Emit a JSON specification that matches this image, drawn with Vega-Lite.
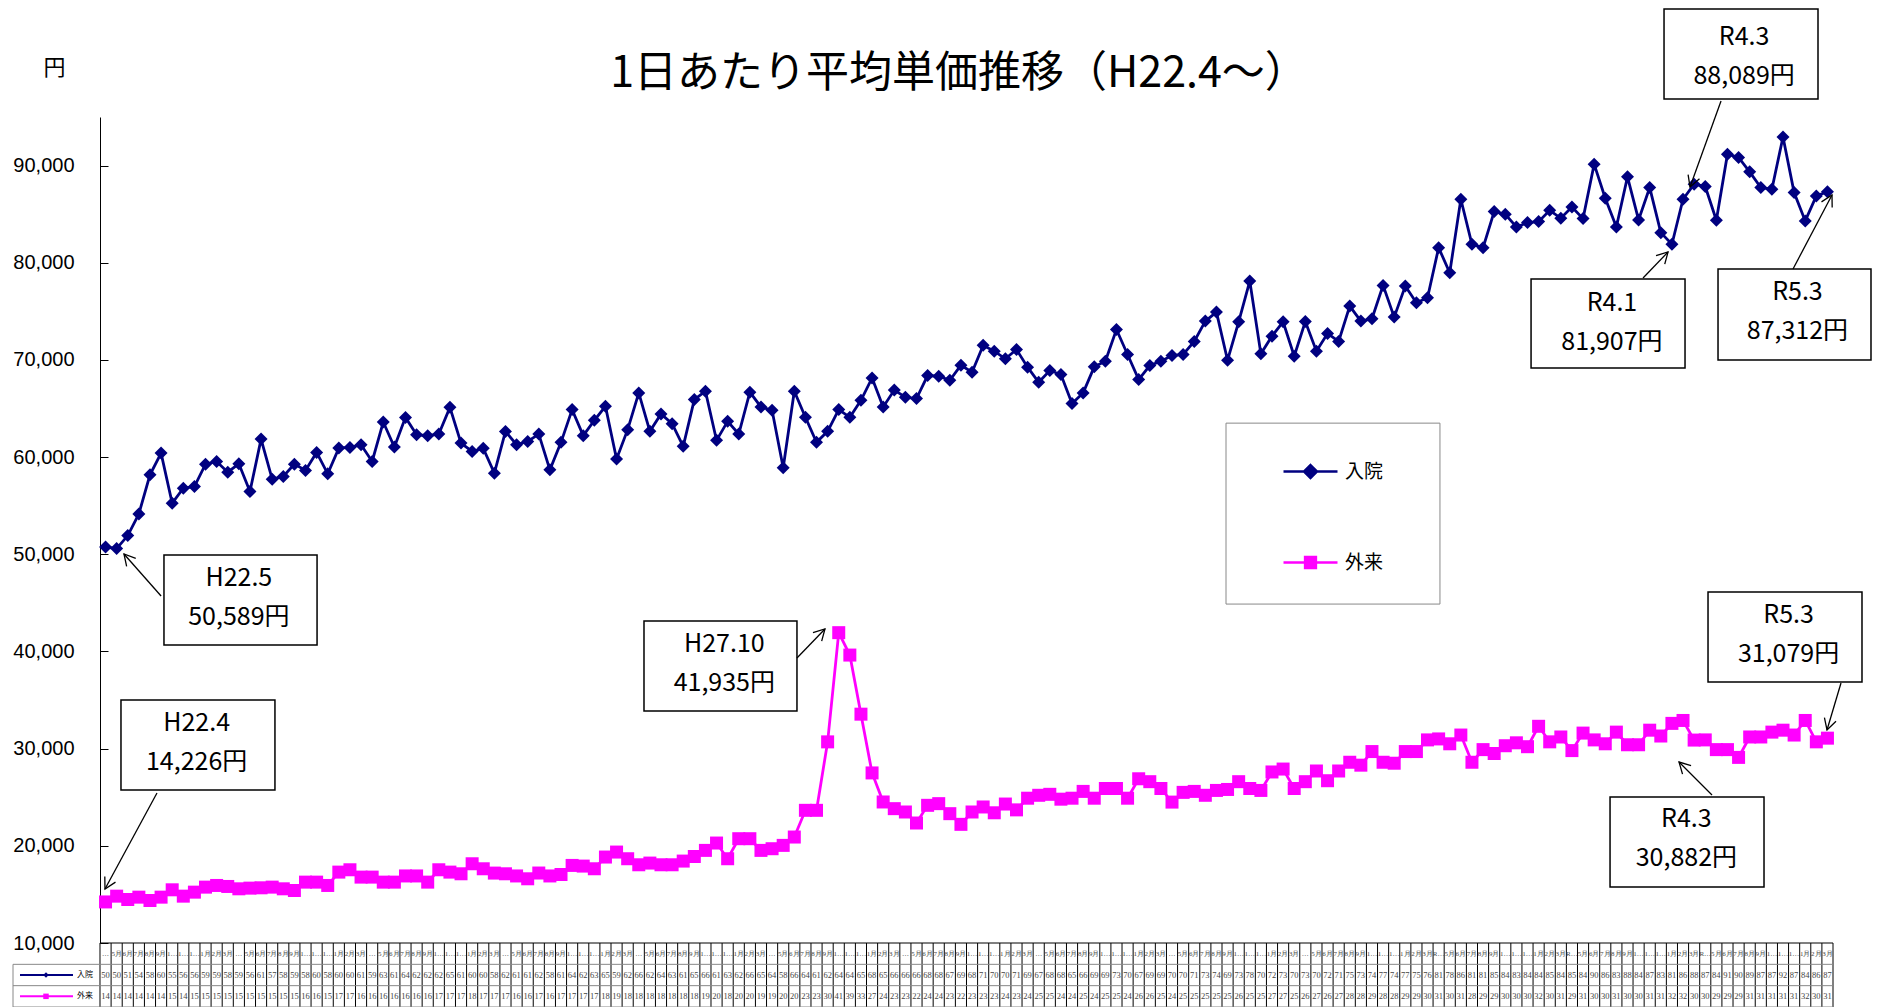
{
"$schema": "https://vega.github.io/schema/vega-lite/v6.json",
"background": "white",
"padding": {"left": 12, "top": 8, "right": 2, "bottom": 1},
"config": {"view": {"stroke": null}, "font": "Noto Sans CJK JP"},
"title": {"text": "1日あたり平均単価推移（H22.4～）", "anchor": "middle", "frame": "group", "font": "Noto Sans CJK JP", "fontSize": 43, "fontWeight": "normal", "color": "black", "dx": 36, "offset": -88},
"spacing": 0,
"bounds": "flush",
"datasets": {"d": [
{"i":0,"m":"H22.4月","入院":50750,"外来":14226,"ak":50,"bk":14},
{"i":1,"m":"5月","入院":50589,"外来":14821,"ak":50,"bk":14},
{"i":2,"m":"6月","入院":51925,"外来":14477,"ak":51,"bk":14},
{"i":3,"m":"7月","入院":54158,"外来":14718,"ak":54,"bk":14},
{"i":4,"m":"8月","入院":58179,"外来":14374,"ak":58,"bk":14},
{"i":5,"m":"9月","入院":60412,"外来":14718,"ak":60,"bk":14},
{"i":6,"m":"10月","入院":55258,"外来":15474,"ak":55,"bk":15},
{"i":7,"m":"11月","入院":56804,"外来":14821,"ak":56,"bk":14},
{"i":8,"m":"12月","入院":56976,"外来":15233,"ak":56,"bk":15},
{"i":9,"m":"1月","入院":59278,"外来":15749,"ak":59,"bk":15},
{"i":10,"m":"2月","入院":59553,"外来":15921,"ak":59,"bk":15},
{"i":11,"m":"3月","入院":58454,"外来":15818,"ak":58,"bk":15},
{"i":12,"m":"H23.4月","入院":59313,"外来":15577,"ak":59,"bk":15},
{"i":13,"m":"5月","入院":56461,"外来":15646,"ak":56,"bk":15},
{"i":14,"m":"6月","入院":61855,"外来":15680,"ak":61,"bk":15},
{"i":15,"m":"7月","入院":57732,"外来":15749,"ak":57,"bk":15},
{"i":16,"m":"8月","入院":58007,"外来":15577,"ak":58,"bk":15},
{"i":17,"m":"9月","入院":59278,"外来":15405,"ak":59,"bk":15},
{"i":18,"m":"10月","入院":58626,"外来":16264,"ak":58,"bk":16},
{"i":19,"m":"11月","入院":60481,"外来":16264,"ak":60,"bk":16},
{"i":20,"m":"12月","入院":58282,"外来":15921,"ak":58,"bk":15},
{"i":21,"m":"1月","入院":60928,"外来":17295,"ak":60,"bk":17},
{"i":22,"m":"2月","入院":60996,"外来":17536,"ak":60,"bk":17},
{"i":23,"m":"3月","入院":61271,"外来":16780,"ak":61,"bk":16},
{"i":24,"m":"H24.4月","入院":59553,"外来":16780,"ak":59,"bk":16},
{"i":25,"m":"5月","入院":63608,"外来":16264,"ak":63,"bk":16},
{"i":26,"m":"6月","入院":61031,"外来":16264,"ak":61,"bk":16},
{"i":27,"m":"7月","入院":64089,"外来":16900,"ak":64,"bk":16},
{"i":28,"m":"8月","入院":62302,"外来":16900,"ak":62,"bk":16},
{"i":29,"m":"9月","入院":62199,"外来":16264,"ak":62,"bk":16},
{"i":30,"m":"10月","入院":62371,"外来":17536,"ak":62,"bk":17},
{"i":31,"m":"11月","入院":65120,"外来":17295,"ak":65,"bk":17},
{"i":32,"m":"12月","入院":61443,"外来":17123,"ak":61,"bk":17},
{"i":33,"m":"1月","入院":60584,"外来":18154,"ak":60,"bk":18},
{"i":34,"m":"2月","入院":60900,"外来":17639,"ak":60,"bk":17},
{"i":35,"m":"3月","入院":58351,"外来":17194,"ak":58,"bk":17},
{"i":36,"m":"H25.4月","入院":62646,"外来":17123,"ak":62,"bk":17},
{"i":37,"m":"5月","入院":61271,"外来":16900,"ak":61,"bk":16},
{"i":38,"m":"6月","入院":61615,"外来":16608,"ak":61,"bk":16},
{"i":39,"m":"7月","入院":62371,"外来":17200,"ak":62,"bk":17},
{"i":40,"m":"8月","入院":58694,"外来":16900,"ak":58,"bk":16},
{"i":41,"m":"9月","入院":61520,"外来":17050,"ak":61,"bk":17},
{"i":42,"m":"10月","入院":64888,"外来":17983,"ak":64,"bk":17},
{"i":43,"m":"11月","入院":62208,"外来":17915,"ak":62,"bk":17},
{"i":44,"m":"12月","入院":63788,"外来":17640,"ak":63,"bk":17},
{"i":45,"m":"1月","入院":65232,"外来":18845,"ak":65,"bk":18},
{"i":46,"m":"2月","入院":59803,"外来":19358,"ak":59,"bk":19},
{"i":47,"m":"3月","入院":62827,"外来":18671,"ak":62,"bk":18},
{"i":48,"m":"H26.4月","入院":66606,"外来":18050,"ak":66,"bk":18},
{"i":49,"m":"5月","入院":62655,"外来":18224,"ak":62,"bk":18},
{"i":50,"m":"6月","入院":64441,"外来":18050,"ak":64,"bk":18},
{"i":51,"m":"7月","入院":63445,"外来":18050,"ak":63,"bk":18},
{"i":52,"m":"8月","入院":61108,"外来":18430,"ak":61,"bk":18},
{"i":53,"m":"9月","入院":65919,"外来":18900,"ak":65,"bk":18},
{"i":54,"m":"10月","入院":66778,"外来":19530,"ak":66,"bk":19},
{"i":55,"m":"11月","入院":61727,"外来":20286,"ak":61,"bk":20},
{"i":56,"m":"12月","入院":63685,"外来":18671,"ak":63,"bk":18},
{"i":57,"m":"1月","入院":62380,"外来":20733,"ak":62,"bk":20},
{"i":58,"m":"2月","入院":66675,"外来":20733,"ak":66,"bk":20},
{"i":59,"m":"3月","入院":65163,"外来":19530,"ak":65,"bk":19},
{"i":60,"m":"H27.4月","入院":64819,"外来":19702,"ak":64,"bk":19},
{"i":61,"m":"5月","入院":58900,"外来":20045,"ak":58,"bk":20},
{"i":62,"m":"6月","入院":66778,"外来":20904,"ak":66,"bk":20},
{"i":63,"m":"7月","入院":64098,"外来":23653,"ak":64,"bk":23},
{"i":64,"m":"8月","入院":61520,"外来":23653,"ak":61,"bk":23},
{"i":65,"m":"9月","入院":62655,"外来":30697,"ak":62,"bk":30},
{"i":66,"m":"10月","入院":64888,"外来":41935,"ak":64,"bk":41},
{"i":67,"m":"11月","入院":64098,"外来":39630,"ak":64,"bk":39},
{"i":68,"m":"12月","入院":65850,"外来":33548,"ak":65,"bk":33},
{"i":69,"m":"1月","入院":68152,"外来":27501,"ak":68,"bk":27},
{"i":70,"m":"2月","入院":65163,"外来":24512,"ak":65,"bk":24},
{"i":71,"m":"3月","入院":66900,"外来":23825,"ak":66,"bk":23},
{"i":72,"m":"H28.4月","入院":66159,"外来":23481,"ak":66,"bk":23},
{"i":73,"m":"5月","入院":66022,"外来":22347,"ak":66,"bk":22},
{"i":74,"m":"6月","入院":68393,"外来":24168,"ak":68,"bk":24},
{"i":75,"m":"7月","入院":68324,"外来":24340,"ak":68,"bk":24},
{"i":76,"m":"8月","入院":67911,"外来":23309,"ak":67,"bk":23},
{"i":77,"m":"9月","入院":69458,"外来":22210,"ak":69,"bk":22},
{"i":78,"m":"10月","入院":68736,"外来":23481,"ak":68,"bk":23},
{"i":79,"m":"11月","入院":71500,"外来":23997,"ak":71,"bk":23},
{"i":80,"m":"12月","入院":70902,"外来":23400,"ak":70,"bk":23},
{"i":81,"m":"1月","入院":70112,"外来":24300,"ak":70,"bk":24},
{"i":82,"m":"2月","入院":71074,"外来":23700,"ak":71,"bk":23},
{"i":83,"m":"3月","入院":69253,"外来":24900,"ak":69,"bk":24},
{"i":84,"m":"H29.4月","入院":67707,"外来":25200,"ak":67,"bk":25},
{"i":85,"m":"5月","入院":68909,"外来":25300,"ak":68,"bk":25},
{"i":86,"m":"6月","入院":68497,"外来":24800,"ak":68,"bk":24},
{"i":87,"m":"7月","入院":65508,"外来":24900,"ak":65,"bk":24},
{"i":88,"m":"8月","入院":66607,"外来":25600,"ak":66,"bk":25},
{"i":89,"m":"9月","入院":69287,"外来":24900,"ak":69,"bk":24},
{"i":90,"m":"10月","入院":69871,"外来":25900,"ak":69,"bk":25},
{"i":91,"m":"11月","入院":73135,"外来":25900,"ak":73,"bk":25},
{"i":92,"m":"12月","入院":70558,"外来":24900,"ak":70,"bk":24},
{"i":93,"m":"1月","入院":67982,"外来":26900,"ak":67,"bk":26},
{"i":94,"m":"2月","入院":69424,"外来":26600,"ak":69,"bk":26},
{"i":95,"m":"3月","入院":69871,"外来":25900,"ak":69,"bk":25},
{"i":96,"m":"H30.4月","入院":70455,"外来":24500,"ak":70,"bk":24},
{"i":97,"m":"5月","入院":70558,"外来":25500,"ak":70,"bk":25},
{"i":98,"m":"6月","入院":71900,"外来":25600,"ak":71,"bk":25},
{"i":99,"m":"7月","入院":73995,"外来":25200,"ak":73,"bk":25},
{"i":100,"m":"8月","入院":74923,"外来":25700,"ak":74,"bk":25},
{"i":101,"m":"9月","入院":69974,"外来":25800,"ak":69,"bk":25},
{"i":102,"m":"10月","入院":73926,"外来":26600,"ak":73,"bk":26},
{"i":103,"m":"11月","入院":78118,"外来":25900,"ak":78,"bk":25},
{"i":104,"m":"12月","入院":70627,"外来":25700,"ak":70,"bk":25},
{"i":105,"m":"1月","入院":72448,"外来":27600,"ak":72,"bk":27},
{"i":106,"m":"2月","入院":73926,"外来":27900,"ak":73,"bk":27},
{"i":107,"m":"3月","入院":70386,"外来":25900,"ak":70,"bk":25},
{"i":108,"m":"H31.4月","入院":73950,"外来":26600,"ak":73,"bk":26},
{"i":109,"m":"5月","入院":70900,"外来":27700,"ak":70,"bk":27},
{"i":110,"m":"6月","入院":72723,"外来":26700,"ak":72,"bk":26},
{"i":111,"m":"7月","入院":71900,"外来":27700,"ak":71,"bk":27},
{"i":112,"m":"8月","入院":75541,"外来":28600,"ak":75,"bk":28},
{"i":113,"m":"9月","入院":73995,"外来":28300,"ak":73,"bk":28},
{"i":114,"m":"10月","入院":74235,"外来":29700,"ak":74,"bk":29},
{"i":115,"m":"11月","入院":77671,"外来":28600,"ak":77,"bk":28},
{"i":116,"m":"12月","入院":74407,"外来":28500,"ak":74,"bk":28},
{"i":117,"m":"1月","入院":77603,"外来":29700,"ak":77,"bk":29},
{"i":118,"m":"2月","入院":75885,"外来":29700,"ak":75,"bk":29},
{"i":119,"m":"3月","入院":76400,"外来":30900,"ak":76,"bk":30},
{"i":120,"m":"R2.4月","入院":81554,"外来":31000,"ak":81,"bk":31},
{"i":121,"m":"5月","入院":78977,"外来":30500,"ak":78,"bk":30},
{"i":122,"m":"6月","入院":86537,"外来":31400,"ak":86,"bk":31},
{"i":123,"m":"7月","入院":81900,"外来":28600,"ak":81,"bk":28},
{"i":124,"m":"8月","入院":81554,"外来":29900,"ak":81,"bk":29},
{"i":125,"m":"9月","入院":85265,"外来":29500,"ak":85,"bk":29},
{"i":126,"m":"10月","入院":84991,"外来":30300,"ak":84,"bk":30},
{"i":127,"m":"11月","入院":83685,"外来":30600,"ak":83,"bk":30},
{"i":128,"m":"12月","入院":84132,"外来":30200,"ak":84,"bk":30},
{"i":129,"m":"1月","入院":84235,"外来":32300,"ak":84,"bk":32},
{"i":130,"m":"2月","入院":85403,"外来":30700,"ak":85,"bk":30},
{"i":131,"m":"3月","入院":84579,"外来":31200,"ak":84,"bk":31},
{"i":132,"m":"R3.4月","入院":85747,"外来":29800,"ak":85,"bk":29},
{"i":133,"m":"5月","入院":84544,"外来":31600,"ak":84,"bk":31},
{"i":134,"m":"6月","入院":90145,"外来":30900,"ak":90,"bk":30},
{"i":135,"m":"7月","入院":86640,"外来":30500,"ak":86,"bk":30},
{"i":136,"m":"8月","入院":83685,"外来":31700,"ak":83,"bk":31},
{"i":137,"m":"9月","入院":88839,"外来":30400,"ak":88,"bk":30},
{"i":138,"m":"10月","入院":84406,"外来":30400,"ak":84,"bk":30},
{"i":139,"m":"11月","入院":87739,"外来":31900,"ak":87,"bk":31},
{"i":140,"m":"12月","入院":83101,"外来":31300,"ak":83,"bk":31},
{"i":141,"m":"1月","入院":81907,"外来":32600,"ak":81,"bk":32},
{"i":142,"m":"2月","入院":86537,"外来":32900,"ak":86,"bk":32},
{"i":143,"m":"3月","入院":88089,"外来":30882,"ak":88,"bk":30},
{"i":144,"m":"R4.4月","入院":87843,"外来":30900,"ak":87,"bk":30},
{"i":145,"m":"5月","入院":84372,"外来":29900,"ak":84,"bk":29},
{"i":146,"m":"6月","入院":91176,"外来":29900,"ak":91,"bk":29},
{"i":147,"m":"7月","入院":90832,"外来":29100,"ak":90,"bk":29},
{"i":148,"m":"8月","入院":89355,"外来":31200,"ak":89,"bk":31},
{"i":149,"m":"9月","入院":87739,"外来":31200,"ak":87,"bk":31},
{"i":150,"m":"10月","入院":87568,"外来":31700,"ak":87,"bk":31},
{"i":151,"m":"11月","入院":92950,"外来":31900,"ak":92,"bk":31},
{"i":152,"m":"12月","入院":87224,"外来":31400,"ak":87,"bk":31},
{"i":153,"m":"1月","入院":84304,"外来":32900,"ak":84,"bk":32},
{"i":154,"m":"2月","入院":86881,"外来":30700,"ak":86,"bk":30},
{"i":155,"m":"3月","入院":87312,"外来":31079,"ak":87,"bk":31}
]},
"vconcat": [
{
"width": 1820, "height": 826,
"layer": [
{
"data": {"values": [{}]},
"mark": {"type": "rect", "fill": "white", "stroke": "#888", "strokeWidth": 1},
"encoding": {"x": {"datum": 100.86, "type": "quantitative", "scale": {"domain": [-8.33, 155.5], "nice": false, "zero": false}, "axis": null}, "x2": {"datum": 120.12}, "y": {"datum": 44877, "type": "quantitative", "scale": {"domain": [10000, 95000], "nice": false, "zero": false}}, "y2": {"datum": 63498}}
},
{
"data": {"name": "d"},
"transform": [{"fold": ["入院", "外来"], "as": ["s", "v"]}],
"encoding": {
"x": {"field": "i", "type": "quantitative", "scale": {"domain": [-8.33, 155.5], "nice": false, "zero": false}, "axis": null},
"y": {"field": "v", "type": "quantitative", "scale": {"domain": [10000, 95000], "nice": false, "zero": false},
"axis": {"title": "円", "titleAngle": 0, "titleX": -46, "titleY": -50, "titleAlign": "center", "titleBaseline": "middle", "titleFont": "Noto Sans CJK JP", "titleFontSize": 22, "titleFontWeight": "normal", "titleColor": "black",
"offset": -87, "values": [10000, 20000, 30000, 40000, 50000, 60000, 70000, 80000, 90000], "format": ",d", "labelFont": "Liberation Sans", "labelFontSize": 20, "labelColor": "black", "labelPadding": 34, "tickSize": -8, "tickColor": "black", "domainColor": "black", "domainWidth": 1, "grid": false}}
},
"layer": [
{"mark": {"type": "line", "strokeWidth": 2.8},
"encoding": {"color": {"field": "s", "type": "nominal", "scale": {"domain": ["入院", "外来"], "range": ["#000080", "#FF00FF"]},
"legend": {"orient": "none", "legendX": 1269, "legendY": 326, "title": null, "direction": "vertical", "padding": 0, "rowPadding": 51, "symbolOffset": 0, "labelOffset": 6, "labelFontSize": 19, "labelFont": "Noto Sans CJK JP", "labelColor": "black", "symbolType": "M-1,0H1M0,-0.24L0.24,0L0,0.24L-0.24,0Z", "symbolSize": 2916, "symbolStrokeWidth": 2.5,
"encode": {"symbols": {"update": {
"shape": {"signal": "datum.value === '入院' ? 'M-1,0H1M0,-0.24L0.24,0L0,0.24L-0.24,0Z' : 'M-1,0H1M-0.2,-0.2H0.2V0.2H-0.2Z'"},
"stroke": {"scale": "color", "field": "value"},
"fill": {"scale": "color", "field": "value"},
"strokeWidth": {"value": 2.5},
"size": {"value": 2916},
"opacity": {"value": 1}}}}}}}},
{"transform": [{"filter": "datum.s === '入院'"}], "mark": {"type": "point", "shape": "diamond", "filled": true, "size": 169, "opacity": 1, "color": "#000080"}, "encoding": {}},
{"transform": [{"filter": "datum.s === '外来'"}], "mark": {"type": "point", "shape": "square", "filled": true, "size": 169, "opacity": 1, "color": "#FF00FF"}, "encoding": {}}
]
},
{
"data": {"values": [{}]},
"layer": [
{"mark": {"type": "rect", "fill": "white", "stroke": "black", "strokeWidth": 1.5}, "encoding": {"x": {"datum": 140.29}, "x2": {"datum": 154.15}, "y": {"datum": 96852}, "y2": {"datum": 106114}}},
{"mark": {"type": "text", "font": "Noto Sans CJK JP", "fontSize": 25, "lineHeight": 39, "align": "center", "baseline": "middle", "color": "black"}, "encoding": {"x": {"datum": 147.5}, "y": {"datum": 103232}, "text": {"value": ["R4.3", "88,089円"]}}},
{"mark": {"type": "rule", "color": "black", "strokeWidth": 1.3}, "encoding": {"x": {"datum": 145.42}, "y": {"datum": 96646}, "x2": {"datum": 142.63}, "y2": {"datum": 87797}}},
{"mark": {"type": "point", "shape": "M-0.55,1L0,0L0.55,1", "size": 484, "filled": false, "stroke": "black", "strokeWidth": 1.3, "opacity": 1, "angle": -160}, "encoding": {"x": {"datum": 142.63}, "y": {"datum": 87797}}},

{"mark": {"type": "rect", "fill": "white", "stroke": "black", "strokeWidth": 1.5}, "encoding": {"x": {"datum": 128.32}, "x2": {"datum": 142.18}, "y": {"datum": 69171}, "y2": {"datum": 78329}}},
{"mark": {"type": "text", "font": "Noto Sans CJK JP", "fontSize": 25, "lineHeight": 39, "align": "center", "baseline": "middle", "color": "black"}, "encoding": {"x": {"datum": 135.6}, "y": {"datum": 75859}, "text": {"value": ["R4.1", "81,907円"]}}},
{"mark": {"type": "rule", "color": "black", "strokeWidth": 1.3}, "encoding": {"x": {"datum": 138.4}, "y": {"datum": 78432}, "x2": {"datum": 140.65}, "y2": {"datum": 81108}}},
{"mark": {"type": "point", "shape": "M-0.55,1L0,0L0.55,1", "size": 484, "filled": false, "stroke": "black", "strokeWidth": 1.3, "opacity": 1, "angle": 44}, "encoding": {"x": {"datum": 140.65}, "y": {"datum": 81108}}},

{"mark": {"type": "rect", "fill": "white", "stroke": "black", "strokeWidth": 1.5}, "encoding": {"x": {"datum": 145.15}, "x2": {"datum": 158.92}, "y": {"datum": 69994}, "y2": {"datum": 79358}}},
{"mark": {"type": "text", "font": "Noto Sans CJK JP", "fontSize": 25, "lineHeight": 39, "align": "center", "baseline": "middle", "color": "black"}, "encoding": {"x": {"datum": 152.3}, "y": {"datum": 76991}, "text": {"value": ["R5.3", "87,312円"]}}},
{"mark": {"type": "rule", "color": "black", "strokeWidth": 1.3}, "encoding": {"x": {"datum": 151.9}, "y": {"datum": 79358}, "x2": {"datum": 155.41}, "y2": {"datum": 86973}}},
{"mark": {"type": "point", "shape": "M-0.55,1L0,0L0.55,1", "size": 484, "filled": false, "stroke": "black", "strokeWidth": 1.3, "opacity": 1, "angle": 28}, "encoding": {"x": {"datum": 155.41}, "y": {"datum": 86973}}},

{"mark": {"type": "rect", "fill": "white", "stroke": "black", "strokeWidth": 1.5}, "encoding": {"x": {"datum": 5.26}, "x2": {"datum": 19.04}, "y": {"datum": 40666}, "y2": {"datum": 49927}}},
{"mark": {"type": "text", "font": "Noto Sans CJK JP", "fontSize": 25, "lineHeight": 39, "align": "center", "baseline": "middle", "color": "black"}, "encoding": {"x": {"datum": 12.0}, "y": {"datum": 47560}, "text": {"value": ["H22.5", "50,589円"]}}},
{"mark": {"type": "rule", "color": "black", "strokeWidth": 1.3}, "encoding": {"x": {"datum": 5.0}, "y": {"datum": 45708}, "x2": {"datum": 1.66}, "y2": {"datum": 50030}}},
{"mark": {"type": "point", "shape": "M-0.55,1L0,0L0.55,1", "size": 484, "filled": false, "stroke": "black", "strokeWidth": 1.3, "opacity": 1, "angle": -41}, "encoding": {"x": {"datum": 1.66}, "y": {"datum": 50030}}},

{"mark": {"type": "rect", "fill": "white", "stroke": "black", "strokeWidth": 1.5}, "encoding": {"x": {"datum": 1.39}, "x2": {"datum": 15.25}, "y": {"datum": 25744}, "y2": {"datum": 35006}}},
{"mark": {"type": "text", "font": "Noto Sans CJK JP", "fontSize": 25, "lineHeight": 39, "align": "center", "baseline": "middle", "color": "black"}, "encoding": {"x": {"datum": 8.2}, "y": {"datum": 32639}, "text": {"value": ["H22.4", "14,226円"]}}},
{"mark": {"type": "rule", "color": "black", "strokeWidth": 1.3}, "encoding": {"x": {"datum": 4.63}, "y": {"datum": 25435}, "x2": {"datum": -0.05}, "y2": {"datum": 15556}}},
{"mark": {"type": "point", "shape": "M-0.55,1L0,0L0.55,1", "size": 484, "filled": false, "stroke": "black", "strokeWidth": 1.3, "opacity": 1, "angle": -152}, "encoding": {"x": {"datum": -0.05}, "y": {"datum": 15556}}},

{"mark": {"type": "rect", "fill": "white", "stroke": "black", "strokeWidth": 1.5}, "encoding": {"x": {"datum": 48.47}, "x2": {"datum": 62.24}, "y": {"datum": 33874}, "y2": {"datum": 43135}}},
{"mark": {"type": "text", "font": "Noto Sans CJK JP", "fontSize": 25, "lineHeight": 39, "align": "center", "baseline": "middle", "color": "black"}, "encoding": {"x": {"datum": 55.7}, "y": {"datum": 40768}, "text": {"value": ["H27.10", "41,935円"]}}},
{"mark": {"type": "rule", "color": "black", "strokeWidth": 1.3}, "encoding": {"x": {"datum": 62.24}, "y": {"datum": 39327}, "x2": {"datum": 64.76}, "y2": {"datum": 42312}}},
{"mark": {"type": "point", "shape": "M-0.55,1L0,0L0.55,1", "size": 484, "filled": false, "stroke": "black", "strokeWidth": 1.3, "opacity": 1, "angle": 44}, "encoding": {"x": {"datum": 64.76}, "y": {"datum": 42312}}},

{"mark": {"type": "rect", "fill": "white", "stroke": "black", "strokeWidth": 1.5}, "encoding": {"x": {"datum": 144.25}, "x2": {"datum": 158.11}, "y": {"datum": 36858}, "y2": {"datum": 46120}}},
{"mark": {"type": "text", "font": "Noto Sans CJK JP", "fontSize": 25, "lineHeight": 39, "align": "center", "baseline": "middle", "color": "black"}, "encoding": {"x": {"datum": 151.5}, "y": {"datum": 43753}, "text": {"value": ["R5.3", "31,079円"]}}},
{"mark": {"type": "rule", "color": "black", "strokeWidth": 1.3}, "encoding": {"x": {"datum": 156.22}, "y": {"datum": 36755}, "x2": {"datum": 154.96}, "y2": {"datum": 31920}}},
{"mark": {"type": "point", "shape": "M-0.55,1L0,0L0.55,1", "size": 484, "filled": false, "stroke": "black", "strokeWidth": 1.3, "opacity": 1, "angle": -163}, "encoding": {"x": {"datum": 154.96}, "y": {"datum": 31920}}},

{"mark": {"type": "rect", "fill": "white", "stroke": "black", "strokeWidth": 1.5}, "encoding": {"x": {"datum": 135.43}, "x2": {"datum": 149.29}, "y": {"datum": 15762}, "y2": {"datum": 25024}}},
{"mark": {"type": "text", "font": "Noto Sans CJK JP", "fontSize": 25, "lineHeight": 39, "align": "center", "baseline": "middle", "color": "black"}, "encoding": {"x": {"datum": 142.3}, "y": {"datum": 22760}, "text": {"value": ["R4.3", "30,882円"]}}},
{"mark": {"type": "rule", "color": "black", "strokeWidth": 1.3}, "encoding": {"x": {"datum": 144.61}, "y": {"datum": 25229}, "x2": {"datum": 141.64}, "y2": {"datum": 28625}}},
{"mark": {"type": "point", "shape": "M-0.55,1L0,0L0.55,1", "size": 484, "filled": false, "stroke": "black", "strokeWidth": 1.3, "opacity": 1, "angle": -45}, "encoding": {"x": {"datum": 141.64}, "y": {"datum": 28625}}}
]
}
]
},
{
"width": 1820, "height": 64,
"layer": [
{
"data": {"name": "d"},
"encoding": {"x": {"field": "i", "type": "quantitative", "scale": {"domain": [-8.33, 155.5], "nice": false, "zero": false}, "axis": null}},
"layer": [
{"mark": {"type": "rule", "color": "black", "strokeWidth": 1, "xOffset": -5.55}, "encoding": {"y": {"datum": 0, "type": "quantitative", "scale": {"domain": [0, 3], "reverse": true, "nice": false, "zero": false}, "axis": null}, "y2": {"datum": 3}}},
{"mark": {"type": "text", "font": "Liberation Serif", "fontSize": 7, "color": "#444", "limit": 12, "ellipsis": ""}, "encoding": {"y": {"datum": 0.5}, "text": {"field": "m"}}},
{"mark": {"type": "text", "font": "Liberation Serif", "fontSize": 8.5, "color": "#444"}, "encoding": {"y": {"datum": 1.5}, "text": {"field": "ak"}}},
{"mark": {"type": "text", "font": "Liberation Serif", "fontSize": 8.5, "color": "#444"}, "encoding": {"y": {"datum": 2.5}, "text": {"field": "bk"}}}
]
},
{
"data": {"values": [{}]},
"layer": [
{"mark": {"type": "rule", "color": "black", "strokeWidth": 1}, "encoding": {"x": {"datum": 155.5}, "y": {"datum": 0}, "y2": {"datum": 3}}},
{"mark": {"type": "rule", "color": "#888", "strokeWidth": 1}, "encoding": {"x": {"datum": -8.33}, "y": {"datum": 1}, "y2": {"datum": 3}}},
{"mark": {"type": "rule", "color": "black", "strokeWidth": 1}, "encoding": {"x": {"datum": -0.5}, "x2": {"datum": 155.5}, "y": {"datum": 0}}},
{"mark": {"type": "rule", "color": "#888", "strokeWidth": 1}, "encoding": {"x": {"datum": -8.33}, "x2": {"datum": 155.5}, "y": {"datum": 1}}},
{"mark": {"type": "rule", "color": "#888", "strokeWidth": 1}, "encoding": {"x": {"datum": -8.33}, "x2": {"datum": 155.5}, "y": {"datum": 2}}},
{"mark": {"type": "rule", "color": "#888", "strokeWidth": 1}, "encoding": {"x": {"datum": -8.33}, "x2": {"datum": 155.5}, "y": {"datum": 3}}},
{"mark": {"type": "rule", "color": "#000080", "strokeWidth": 2}, "encoding": {"x": {"datum": -7.7}, "x2": {"datum": -2.93}, "y": {"datum": 1.5}}},
{"mark": {"type": "point", "shape": "diamond", "filled": true, "color": "#000080", "size": 30, "opacity": 1}, "encoding": {"x": {"datum": -5.36}, "y": {"datum": 1.5}}},
{"mark": {"type": "text", "font": "Noto Sans CJK JP", "fontSize": 8, "align": "left", "color": "black"}, "encoding": {"x": {"datum": -2.57}, "y": {"datum": 1.5}, "text": {"value": "入院"}}},
{"mark": {"type": "rule", "color": "#FF00FF", "strokeWidth": 2}, "encoding": {"x": {"datum": -7.7}, "x2": {"datum": -2.93}, "y": {"datum": 2.5}}},
{"mark": {"type": "point", "shape": "square", "filled": true, "color": "#FF00FF", "size": 30, "opacity": 1}, "encoding": {"x": {"datum": -5.36}, "y": {"datum": 2.5}}},
{"mark": {"type": "text", "font": "Noto Sans CJK JP", "fontSize": 8, "align": "left", "color": "black"}, "encoding": {"x": {"datum": -2.57}, "y": {"datum": 2.5}, "text": {"value": "外来"}}}
]
}
]
}
]
}
